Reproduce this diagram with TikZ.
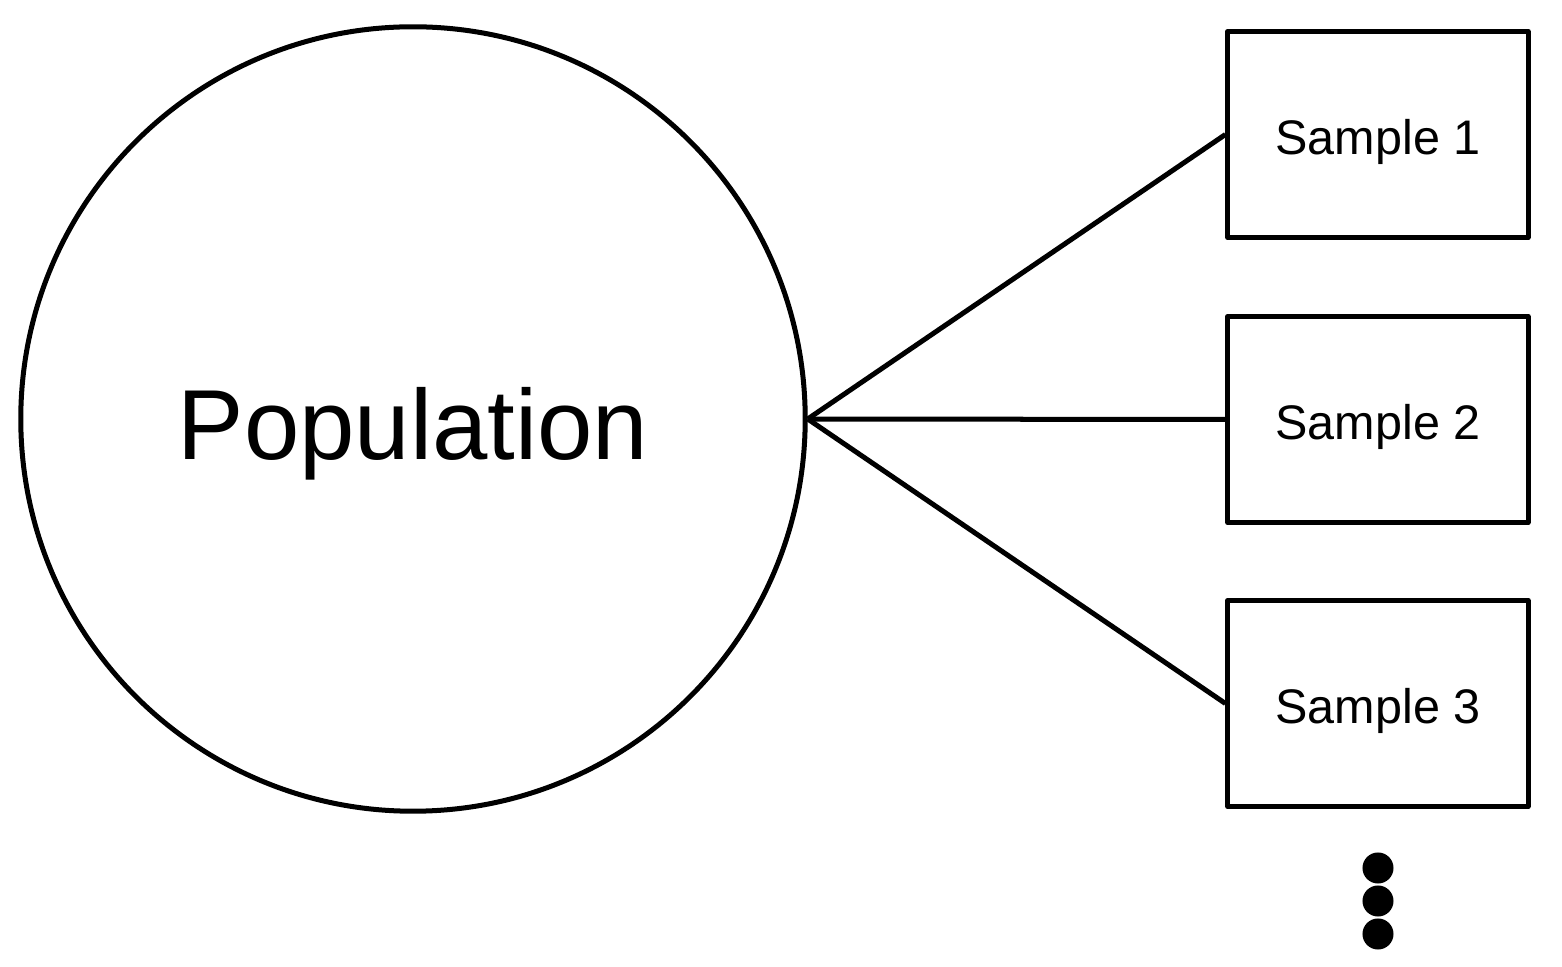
\documentclass[tikz,border=0pt]{standalone}
\usepackage{fontspec}
\setmainfont{Liberation Sans}
\begin{document}
\begin{tikzpicture}[x=0.01cm,y=-0.01cm,
  ln/.style={line width=0.05cm, line join=round},
  popnode/.style={ln, draw, circle, minimum size=7.84cm, inner sep=0pt, font=\fontsize{28.3}{32}\selectfont},
  samplebox/.style={ln, draw, rectangle, minimum width=3cm, minimum height=2.06cm, inner sep=0pt, font=\fontsize{13.8}{17}\selectfont},
  dotnode/.style={circle, fill=black, minimum size=0.31cm, inner sep=0pt}]
\useasboundingbox (0,0) rectangle (1562,967);
\node[popnode] (pop) at (413,419) {\raisebox{-0.15cm}[\height][\depth]{Population}};
\node[samplebox] (s1) at (1378,134.5) {\raisebox{-0.07cm}[\height][\depth]{Sample 1}};
\node[samplebox] (s2) at (1378,419.5) {\raisebox{-0.07cm}[\height][\depth]{Sample 2}};
\node[samplebox] (s3) at (1378,703.5) {\raisebox{-0.07cm}[\height][\depth]{Sample 3}};
\draw[ln] (pop.east) -- (s1.west);
\draw[ln] (pop.east) -- (s2.west);
\draw[ln] (pop.east) -- (s3.west);
\node[dotnode] (d1) at (1378,868) {};
\node[dotnode] (d2) at (1378,901) {};
\node[dotnode] (d3) at (1378,934) {};
\end{tikzpicture}
\end{document}
